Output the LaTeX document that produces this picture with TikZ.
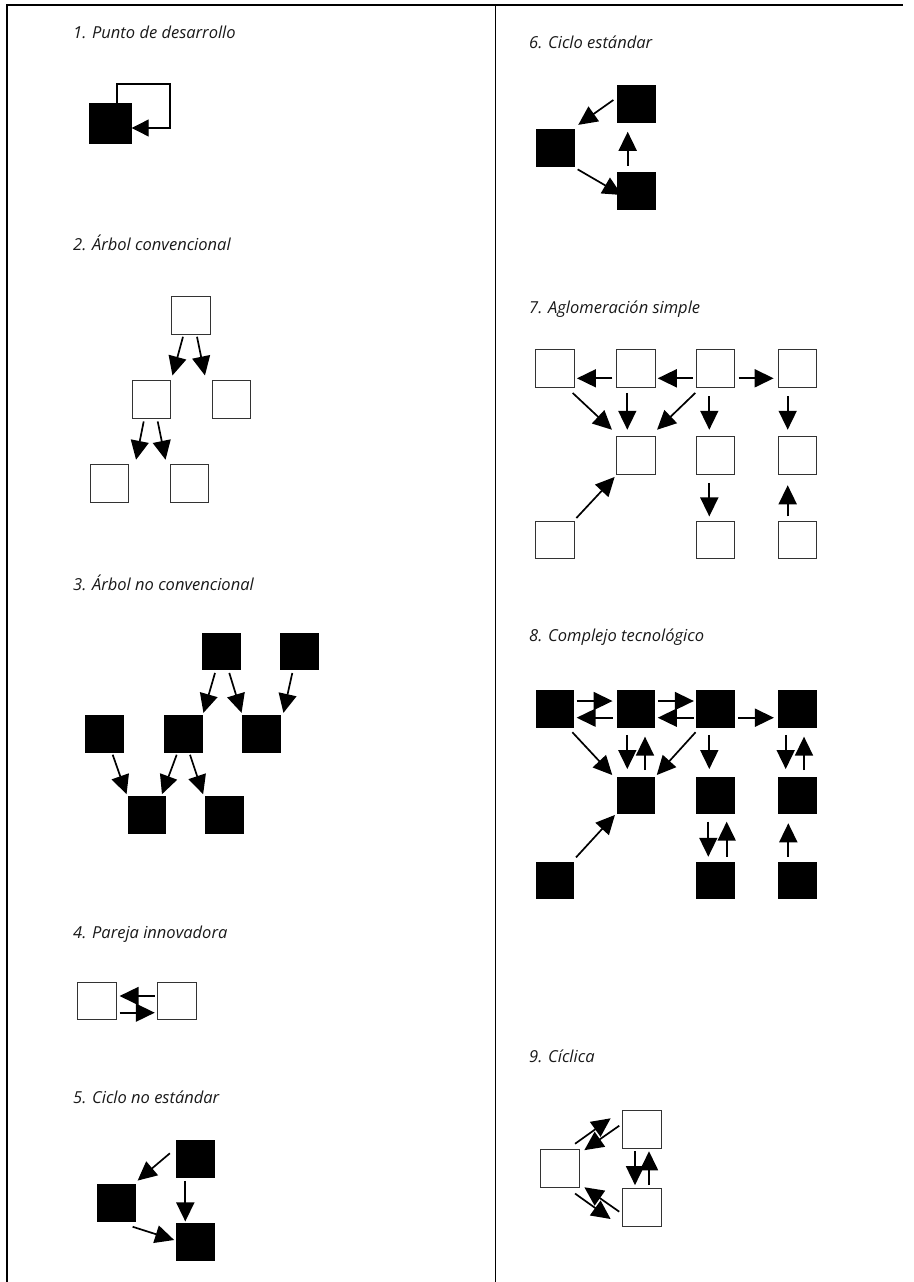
\documentclass[tikz,border=0pt]{standalone}
\usepackage{fontspec}
\setmainfont{Open Sans}
\usetikzlibrary{arrows.meta}
\tikzset{
  sqopen/.style={draw=black!80, line width=1pt, fill=white, minimum width=38.5pt, minimum height=37.5pt, inner sep=0pt},
  sqfull/.style={fill=black, minimum width=38.5pt, minimum height=37.5pt, inner sep=0pt},
  arr/.style={line width=1.7pt, -{Triangle[length=19pt,width=18pt]}},
  ttl/.style={anchor=base west, inner sep=0pt, text=black!90, font=\fontsize{16.5}{19}\selectfont\itshape},
}
\begin{document}
\begin{tikzpicture}[x=1pt,y=-1pt]
  \useasboundingbox (0,0) rectangle (913,1282);

  % Frame
  \draw[line width=1.4pt] (7,1282) -- (7,5) -- (903,5);
  \draw[line width=1.4pt] (495.5,5) -- (495.5,1282);

  % 1. Punto de desarrollo
  \node[ttl] (t1) at (73,38) {1. Punto de desarrollo};
  \node[sqfull, minimum width=43pt, minimum height=41pt] (p1a) at (110,123.5) {};
  \coordinate (p1k) at (170,84);
  \draw[line width=1.1pt, -{Triangle[length=17pt,width=17pt]}] ([xshift=7pt]p1a.north) |- (p1k) |- ([yshift=-4.5pt]p1a.east);

  % 2. Arbol convencional
  \node[ttl] (t2) at (73,250) {2. Árbol convencional};
  \node[sqopen] (p2a) at (191,315.5) {};
  \node[sqopen] (p2b) at (151.7,399.7) {};
  \node[sqopen] (p2c) at (231.7,399.7) {};
  \node[sqopen] (p2d) at (109.3,483.5) {};
  \node[sqopen] (p2e) at (189.3,483.5) {};
  \draw[arr] ([shift={(-8,2)}]p2a.south) -- ([shift={(1,-5)}]p2b.north east);
  \draw[arr] ([shift={(6,2)}]p2a.south) -- ([shift={(-7,-5)}]p2c.north west);
  \draw[arr] ([shift={(-8,2.5)}]p2b.south) -- ([shift={(7,-4.5)}]p2d.north east);
  \draw[arr] ([shift={(6,2.5)}]p2b.south) -- ([shift={(-4,-4.5)}]p2e.north west);

  % 3. Arbol no convencional
  \node[ttl] (t3) at (73,590.7) {3. Árbol no convencional};
  \node[sqfull] (p3a) at (221.7,651.7) {};
  \node[sqfull] (p3b) at (299.3,651.7) {};
  \node[sqfull] (p3c) at (104.3,733.8) {};
  \node[sqfull] (p3d) at (183.7,733.8) {};
  \node[sqfull] (p3e) at (261.3,733.8) {};
  \node[sqfull] (p3f) at (146.8,815) {};
  \node[sqfull] (p3g) at (224.3,815) {};
  \draw[arr] ([shift={(-6.7,2.3)}]p3a.south) -- ([shift={(0.3,-2)}]p3d.north east);
  \draw[arr] ([shift={(7.6,2.3)}]p3a.south) -- ([shift={(-0.3,-2)}]p3e.north west);
  \draw[arr] ([shift={(-7,2.3)}]p3b.south) -- ([shift={(2.7,-2)}]p3e.north east);
  \draw[arr] ([shift={(8.4,2)}]p3c.south) -- ([shift={(-0.8,-1.8)}]p3f.north west);
  \draw[arr] ([shift={(-7,2)}]p3d.south) -- ([shift={(-4.3,-1.8)}]p3f.north east);
  \draw[arr] ([shift={(6.3,2)}]p3d.south) -- ([shift={(-1.7,-1.8)}]p3g.north west);

  % 4. Pareja innovadora
  \node[ttl] (t4) at (73,938) {4. Pareja innovadora};
  \node[sqopen] (p4a) at (97.2,1000.8) {};
  \node[sqopen] (p4b) at (177.2,1000.8) {};
  \draw[arr] ([shift={(-2.7,-4.8)}]p4b.west) -- ([shift={(2.6,-4.8)}]p4a.east);
  \draw[arr] ([shift={(2.6,11.9)}]p4a.east) -- ([shift={(-2.7,11.9)}]p4b.west);

  % 5. Ciclo no estandar
  \node[ttl] (t5) at (73,1103.3) {5. Ciclo no estándar};
  \node[sqfull] (p5a) at (195.3,1158.8) {};
  \node[sqfull] (p5b) at (116.5,1202.8) {};
  \node[sqfull] (p5c) at (195.3,1242) {};
  \draw[arr] ([shift={(-6,-5.5)}]p5a.west) -- ([shift={(1.7,-3.3)}]p5b.north east);
  \draw[arr] ([shift={(-10,3)}]p5a.south) -- ([shift={(-10,-1.6)}]p5c.north);
  \draw[arr] ([shift={(-3.3,5)}]p5b.south east) -- ([shift={(-1.7,-2)}]p5c.west);

  % 6. Ciclo estandar
  \node[ttl] (t6) at (529,48.3) {6. Ciclo estándar};
  \node[sqfull] (p6a) at (636.5,103.8) {};
  \node[sqfull] (p6b) at (555.5,147.8) {};
  \node[sqfull] (p6c) at (636.5,190.8) {};
  \draw[arr] ([shift={(-3.7,-3.8)}]p6a.west) -- ([shift={(3.3,-4)}]p6b.north east);
  \draw[arr] ([shift={(-8.8,-6)}]p6c.north) -- ([shift={(-8.8,9)}]p6a.south);
  \draw[arr] ([shift={(2.7,2.6)}]p6b.south east) -- ([shift={(4.7,4.2)}]p6c.west);

  % 7. Aglomeracion simple
  \node[ttl] (t7) at (529,313.3) {7. Aglomeración simple};
  \node[sqopen] (p7a1) at (555.2,368.3) {};
  \node[sqopen] (p7a2) at (636,368.3) {};
  \node[sqopen] (p7a3) at (715.3,368.3) {};
  \node[sqopen] (p7a4) at (797.7,368.3) {};
  \node[sqopen] (p7b2) at (636,455.5) {};
  \node[sqopen] (p7b3) at (715.3,455.5) {};
  \node[sqopen] (p7b4) at (797.7,455.5) {};
  \node[sqopen] (p7c1) at (555.2,540) {};
  \node[sqopen] (p7c3) at (715.3,540) {};
  \node[sqopen] (p7c4) at (797.7,540) {};
  \draw[arr] ([shift={(-4,10)}]p7a2.west) -- ([shift={(2,10)}]p7a1.east);
  \draw[arr] ([shift={(-2.7,10)}]p7a3.west) -- ([shift={(2,10)}]p7a2.east);
  \draw[arr] ([shift={(3.6,10)}]p7a3.east) -- ([shift={(-4.3,10)}]p7a4.west);
  \draw[arr] ([shift={(-2.3,5.4)}]p7a1.south east) -- ([shift={(-4.3,-6.5)}]p7b2.north west);
  \draw[arr] ([shift={(-8.7,5.4)}]p7a2.south) -- ([shift={(-8.7,-6.5)}]p7b2.north);
  \draw[arr] ([shift={(-0.3,5.4)}]p7a3.south west) -- ([shift={(1.3,-6.5)}]p7b2.north east);
  \draw[arr] ([shift={(-6,8.7)}]p7a3.south) -- ([shift={(-6,-6.5)}]p7b3.north);
  \draw[arr] ([shift={(-10,8.7)}]p7a4.south) -- ([shift={(-10,-6.5)}]p7b4.north);
  \draw[arr] ([shift={(1.4,-2.7)}]p7c1.north east) -- ([shift={(-1.6,2.2)}]p7b2.south west);
  \draw[arr] ([shift={(-6,8.2)}]p7b3.south) -- ([shift={(-6,-4.3)}]p7c3.north);
  \draw[arr] ([shift={(-10,-4.3)}]p7c4.north) -- ([shift={(-10,10.5)}]p7b4.south);

  % 8. Complejo tecnologico
  \node[ttl] (t8) at (529,641.7) {8. Complejo tecnológico};
  \node[sqfull] (p8a1) at (555.2,709) {};
  \node[sqfull] (p8a2) at (636,709) {};
  \node[sqfull] (p8a3) at (715.3,709) {};
  \node[sqfull] (p8a4) at (797.7,709) {};
  \node[sqfull] (p8b2) at (636,795.5) {};
  \node[sqfull] (p8b3) at (715.3,795.5) {};
  \node[sqfull] (p8b4) at (797.7,795.5) {};
  \node[sqfull] (p8c1) at (555.2,880.5) {};
  \node[sqfull] (p8c3) at (715.3,880.5) {};
  \node[sqfull] (p8c4) at (797.7,880.5) {};
  \draw[arr] ([shift={(2,-8)}]p8a1.east) -- ([shift={(-4,-8)}]p8a2.west);
  \draw[arr] ([shift={(-4,8.7)}]p8a2.west) -- ([shift={(2,8.7)}]p8a1.east);
  \draw[arr] ([shift={(2.3,-8)}]p8a2.east) -- ([shift={(-2,-8)}]p8a3.west);
  \draw[arr] ([shift={(-2,8.7)}]p8a3.west) -- ([shift={(2.3,8.7)}]p8a2.east);
  \draw[arr] ([shift={(3.6,8.7)}]p8a3.east) -- ([shift={(-4.3,8.7)}]p8a4.west);
  \draw[arr] ([shift={(-2.3,4.3)}]p8a1.south east) -- ([shift={(-4.3,-1.5)}]p8b2.north west);
  \draw[arr] ([shift={(-8.7,7)}]p8a2.south) -- ([shift={(-8.7,-7.5)}]p8b2.north);
  \draw[arr] ([shift={(9,-6.5)}]p8b2.north) -- ([shift={(9,8.7)}]p8a2.south);
  \draw[arr] ([shift={(-0.3,4.3)}]p8a3.south west) -- ([shift={(1.3,-1.5)}]p8b2.north east);
  \draw[arr] ([shift={(-6,7)}]p8a3.south) -- ([shift={(-6,-7.5)}]p8b3.north);
  \draw[arr] ([shift={(-12,7)}]p8a4.south) -- ([shift={(-12,-7.5)}]p8b4.north);
  \draw[arr] ([shift={(6.3,-6.5)}]p8b4.north) -- ([shift={(6.3,8.7)}]p8a4.south);
  \draw[arr] ([shift={(-7,7.2)}]p8b3.south) -- ([shift={(-7,-4.8)}]p8c3.north);
  \draw[arr] ([shift={(11.4,-4.8)}]p8c3.north) -- ([shift={(11.4,7.2)}]p8b3.south);
  \draw[arr] ([shift={(-9.4,-4.8)}]p8c4.north) -- ([shift={(-9.4,8.8)}]p8b4.south);
  \draw[arr] ([shift={(1.4,-4.2)}]p8c1.north east) -- ([shift={(-1.6,0.5)}]p8b2.south west);

  % 9. Ciclica
  \node[ttl] (t9) at (529,1062.3) {9. Cíclica};
  \node[sqopen] (p9a) at (642,1129.3) {};
  \node[sqopen] (p9b) at (560,1168.7) {};
  \node[sqopen] (p9c) at (642,1207.5) {};
  \draw[arr] ([shift={(-4.7,-5.7)}]p9b.north east) -- ([shift={(-11.6,-11)}]p9a.west);
  \draw[arr] ([shift={(-3,-3.6)}]p9a.west) -- ([shift={(4.6,0.7)}]p9b.north east);
  \draw[arr] ([shift={(-7,2.7)}]p9a.south) -- ([shift={(-7,-3.1)}]p9c.north);
  \draw[arr] ([shift={(7,-3.1)}]p9c.north) -- ([shift={(7,2.7)}]p9a.south);
  \draw[arr] ([shift={(-4.7,5.6)}]p9b.south east) -- ([shift={(-11.6,11.5)}]p9c.west);
  \draw[arr] ([shift={(-3,4.2)}]p9c.west) -- ([shift={(4.6,-0.7)}]p9b.south east);
\end{tikzpicture}
\end{document}
